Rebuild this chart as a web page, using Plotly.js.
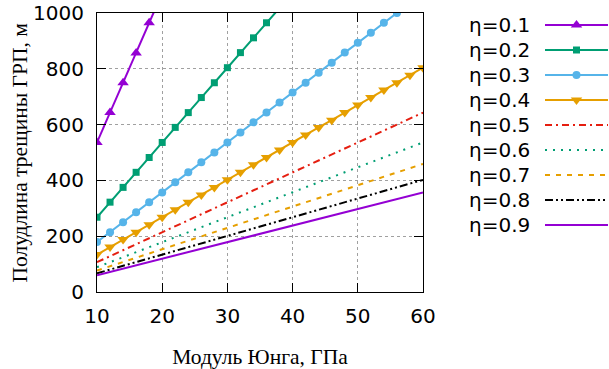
<!DOCTYPE html>
<html><head><meta charset="utf-8">
<script src="https://cdn.plot.ly/plotly-3.0.1.min.js"></script>
<style>html,body{margin:0;padding:0;background:#fff}</style>
</head><body><div id="chart" style="width:609px;height:369px"></div>
<script>
// Data
const etaLabels = ['η=0.1','η=0.2','η=0.3','η=0.4','η=0.5','η=0.6','η=0.7','η=0.8','η=0.9'];
const xTitle = 'Модуль Юнга, ГПа';
const yTitle = 'Полудлина трещины ГРП, м';
const xEta01 = [10,12,14,16,18,20];
const yEta01 = [536,643,750,857,965,1072];
const xEta02 = [10,12,14,16,18,20,22,24,26,28,30,32,34,36,38];
const yEta02 = [268,322,375,429,482,536,590,643,697,750,804,858,911,965,1018];
const xEta03 = [10,12,14,16,18,20,22,24,26,28,30,32,34,36,38,40,42,44,46,48,50,52,54,56,58];
const yEta03 = [179,214,250,286,322,357,393,429,465,500,536,572,608,643,679,715,750,786,822,858,893,929,965,1000,1036];
const xEta04 = [10,12,14,16,18,20,22,24,26,28,30,32,34,36,38,40,42,44,46,48,50,52,54,56,58,60];
const yEta04 = [134,161,188,214,241,268,295,322,348,375,402,429,456,482,509,536,563,590,616,643,670,697,724,750,777,804];
const xLines = [10,20,30,40,50,60];
const yEta05 = [107,214,322,429,536,643];
const yEta06 = [89,179,268,357,447,536];
const yEta07 = [77,153,230,306,383,459];
const yEta08 = [67,134,201,268,335,402];
const yEta09 = [60,119,179,238,298,357];

const styles = [
  {color:'#9400d3', dash:'solid', symbol:'triangle-up', size:10},
  {color:'#009e73', dash:'solid', symbol:'square', size:7},
  {color:'#56b4e9', dash:'solid', symbol:'circle', size:8},
  {color:'#e69f00', dash:'solid', symbol:'triangle-down', size:10},
  {color:'#e51e10', dash:'7px,4px,2px,4px'},
  {color:'#009e73', dash:'2px,6px'},
  {color:'#e69f00', dash:'5px,6px'},
  {color:'#000000', dash:'8px,3px,2px,3px,2px,3px'},
  {color:'#9400d3', dash:'solid'}
];
const series = [
  [xEta01,yEta01],[xEta02,yEta02],[xEta03,yEta03],[xEta04,yEta04],
  [xLines,yEta05],[xLines,yEta06],[xLines,yEta07],[xLines,yEta08],[xLines,yEta09]
];
const traces = [];
series.forEach((s,i)=>{
  const st = styles[i];
  const t = {x:s[0], y:s[1], type:'scatter', mode: st.symbol?'lines+markers':'lines',
    line:{color:st.color, width:2, dash:st.dash}, showlegend:false, hoverinfo:'skip',
    xaxis:'x', yaxis:'y'};
  if (st.symbol) t.marker = {symbol:st.symbol, size:st.size, color:st.color};
  traces.push(t);
});
// legend samples drawn on a helper axis
const annotations = [];
etaLabels.forEach((lab,i)=>{
  const st = styles[i];
  traces.push({x:[0,2], y:[i,i], type:'scatter', mode:'lines', line:{color:st.color, width:2, dash:st.dash},
    xaxis:'x2', yaxis:'y2', showlegend:false, hoverinfo:'skip', cliponaxis:false});
  if (st.symbol) traces.push({x:[1], y:[i], type:'scatter', mode:'markers',
    marker:{symbol:st.symbol, size:st.size, color:st.color}, xaxis:'x2', yaxis:'y2',
    showlegend:false, hoverinfo:'skip', cliponaxis:false});
  annotations.push({xref:'x2', yref:'y2', x:0, y:i, text:lab, showarrow:false, xanchor:'right',
    yanchor:'middle', xshift:-13, font:{family:'DejaVu Sans', size:20, color:'#000'}});
});
annotations.push({xref:'paper', yref:'paper', x:0, y:0.5, xshift:-78, xanchor:'center', yanchor:'middle',
  text:yTitle, textangle:-90, showarrow:false, font:{family:'Liberation Serif', size:21.5, color:'#000'}});

const axisCommon = {showline:true, linecolor:'#000', linewidth:1, mirror:'ticks', ticks:'inside',
  ticklen:9, tickwidth:1, tickcolor:'#000', showgrid:true, gridcolor:'#a0a0a0', griddash:'dot', gridwidth:1,
  zeroline:false, tickfont:{family:'DejaVu Sans', size:20, color:'#000'}};
const layout = {
  width:609, height:369, margin:{l:97, r:1, t:13, b:77},
  paper_bgcolor:'#fff', plot_bgcolor:'#fff', showlegend:false,
  font:{family:'DejaVu Sans', color:'#000'},
  xaxis: Object.assign({}, axisCommon, {domain:[0, 326/511], range:[10,60], dtick:10, tick0:10,
    ticklabelstandoff:6,
    title:{text:xTitle, font:{family:'Liberation Serif', size:21.5, color:'#000'}, standoff:22}}),
  yaxis: Object.assign({}, axisCommon, {range:[0,1000], dtick:200, ticklabelstandoff:8}),
  xaxis2: {domain:[(545-97)/511, 1], range:[0,2], visible:false, anchor:'y2', fixedrange:true},
  yaxis2: {domain:[0,1], range:[10.68,-0.48], visible:false, anchor:'x2', fixedrange:true},
  annotations: annotations
};
Plotly.newPlot('chart', traces, layout, {displayModeBar:false, staticPlot:true});
</script></body></html>
